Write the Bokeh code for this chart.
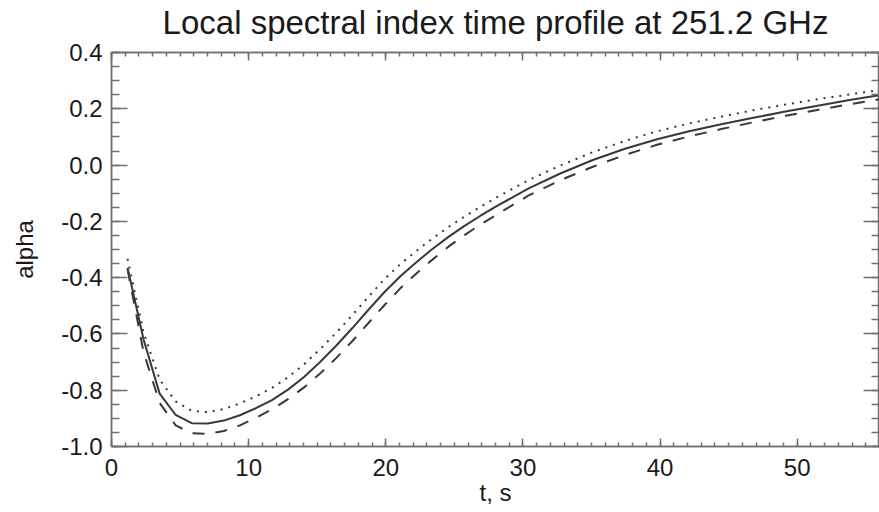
from bokeh.plotting import figure
from bokeh.models import (LinearAxis, FixedTicker, Range1d, PrintfTickFormatter,
                          CustomJSTickFormatter, ColumnDataSource)
from bokeh.embed import file_html
from bokeh.resources import INLINE

# ---- data ----
t_s = [1.17, 2.34, 3.51, 4.68, 5.85, 7.02, 8.19, 9.36, 10.53, 11.7, 12.87, 14.04,
       15.21, 16.38, 17.55, 18.72, 19.89, 21.06, 22.23, 23.4, 24.57, 25.74, 26.91,
       28.08, 30.42, 32.76, 35.1, 37.44, 39.78, 42.12, 44.46, 46.8, 49.14, 51.48,
       53.82, 56.16]
alpha_solid = [-0.365, -0.62, -0.812, -0.888, -0.917, -0.918, -0.908, -0.889, -0.864,
               -0.835, -0.798, -0.753, -0.700, -0.642, -0.580, -0.515, -0.452, -0.395,
               -0.345, -0.298, -0.255, -0.216, -0.180, -0.146, -0.083, -0.029, 0.018,
               0.058, 0.092, 0.120, 0.145, 0.168, 0.190, 0.211, 0.231, 0.250]
alpha_dotted = [-0.333, -0.595, -0.762, -0.840, -0.873, -0.878, -0.867, -0.847, -0.822,
                -0.792, -0.754, -0.708, -0.654, -0.596, -0.534, -0.469, -0.406, -0.352,
                -0.305, -0.261, -0.220, -0.183, -0.148, -0.115, -0.053, -0.001, 0.046,
                0.086, 0.120, 0.148, 0.172, 0.195, 0.215, 0.234, 0.251, 0.268]
alpha_dashed = [-0.370, -0.665, -0.845, -0.925, -0.953, -0.955, -0.945, -0.925, -0.898,
                -0.868, -0.832, -0.790, -0.741, -0.686, -0.626, -0.562, -0.498, -0.438,
                -0.385, -0.336, -0.290, -0.249, -0.211, -0.176, -0.108, -0.053, -0.006,
                0.036, 0.072, 0.102, 0.128, 0.152, 0.175, 0.196, 0.216, 0.235]

x_ticks = [0, 10, 20, 30, 40, 50]
y_ticks = [-1.0, -0.8, -0.6, -0.4, -0.2, 0.0, 0.2, 0.4]
x_minor = list(range(0, 57, 1))
y_minor = [round(-1.0 + 0.05 * i, 2) for i in range(29)]

title_text = "Local spectral index time profile at 251.2 GHz"
x_label = "t, s"
y_label = "alpha"

# ---- styling ----
FONT = "Liberation Sans"
TEXT = "#1a1a1a"
AXC = "#707070"
LINEC = "#383838"

src = ColumnDataSource(dict(t=t_s, solid=alpha_solid, dotted=alpha_dotted, dashed=alpha_dashed))

p = figure(width=879, height=512, x_range=Range1d(0, 56), y_range=Range1d(-1.0, 0.4),
           output_backend="svg", toolbar_location=None,
           min_border_left=111, min_border_right=0, min_border_top=49, min_border_bottom=66)

p.xgrid.visible = False
p.ygrid.visible = False
p.outline_line_color = AXC
p.outline_line_width = 1.5
p.background_fill_color = "white"
p.border_fill_color = "white"

# extra axes for IDL-style box ticks (the top one also carries the title)
p.add_layout(LinearAxis(), "above")
p.add_layout(LinearAxis(), "right")

for ax in p.xaxis:
    ax.ticker = FixedTicker(ticks=x_ticks, minor_ticks=x_minor)
    ax.major_tick_in = 8
    ax.major_tick_out = 0
    ax.minor_tick_in = 4
    ax.minor_tick_out = 0
for ax in p.yaxis:
    ax.ticker = FixedTicker(ticks=y_ticks, minor_ticks=y_minor)
    ax.major_tick_in = 16
    ax.major_tick_out = 0
    ax.minor_tick_in = 8
    ax.minor_tick_out = 0

for ax in p.axis:
    ax.axis_line_color = AXC
    ax.axis_line_width = 1.5
    ax.major_tick_line_color = AXC
    ax.major_tick_line_width = 1.5
    ax.minor_tick_line_color = AXC
    ax.minor_tick_line_width = 1.5
    ax.major_label_text_font = FONT
    ax.major_label_text_font_size = "24px"
    ax.major_label_text_color = TEXT
    ax.axis_label_text_font = FONT
    ax.axis_label_text_font_size = "24px"
    ax.axis_label_text_font_style = "normal"
    ax.axis_label_text_color = TEXT

bottom = p.below[0]
left = p.left[0]
top = p.above[-1]
right = p.right[0]

bottom.axis_label = x_label
bottom.major_label_standoff = 12
bottom.axis_label_standoff = 0

left.axis_label = y_label
left.formatter = PrintfTickFormatter(format="%.1f")
left.major_label_standoff = 9
left.axis_label_standoff = 20

for ax in (top, right):
    ax.formatter = CustomJSTickFormatter(code="return ''")
    ax.major_label_text_font_size = "0px"
    ax.major_label_standoff = 0
    ax.axis_label = None

# chart title, carried by the top axis so it can sit close to the page top
top.axis_label = title_text
top.axis_label_text_font_size = "33px"
top.axis_label_standoff = 12

p.line("t", "solid", source=src, line_color=LINEC, line_width=2)
p.line("t", "dotted", source=src, line_color=LINEC, line_width=2, line_dash="2 6")
p.line("t", "dashed", source=src, line_color=LINEC, line_width=2, line_dash="12 11")

open("out.html", "w").write(file_html(p, INLINE))
